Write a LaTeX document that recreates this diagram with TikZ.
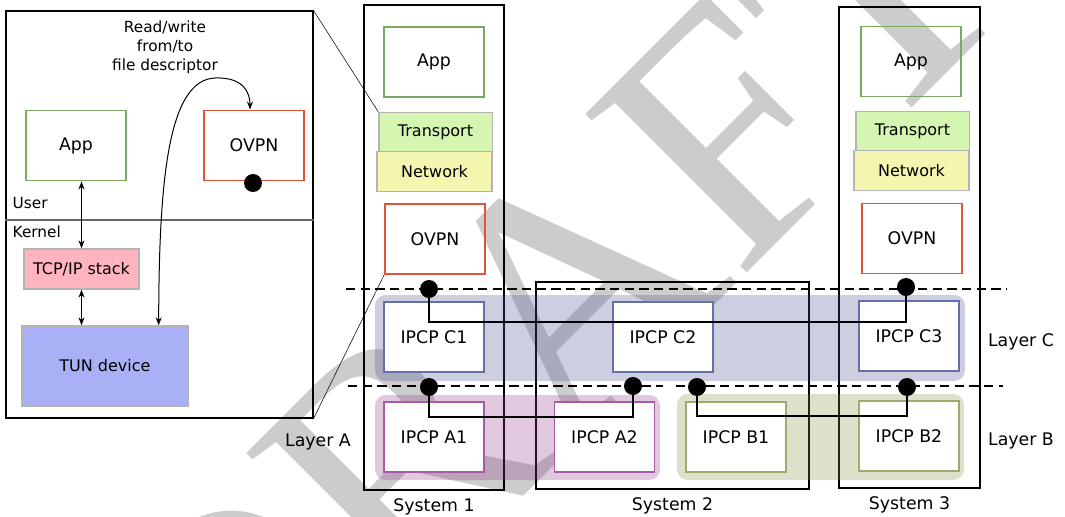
\documentclass[tikz,border=0pt]{standalone}
\usepackage{fontspec}
\newfontfamily\dejavu{DejaVu Sans}
\newfontfamily\wmfont{Liberation Serif}
\usetikzlibrary{positioning,arrows.meta}

\definecolor{appgreen}{RGB}{126,168,98}
\definecolor{ovpnred}{RGB}{224,83,58}
\definecolor{stackgrey}{RGB}{180,180,180}
\definecolor{transfill}{RGB}{213,246,176}
\definecolor{netfill}{RGB}{244,245,174}
\definecolor{tcpfill}{RGB}{255,180,192}
\definecolor{tunfill}{RGB}{170,176,245}
\definecolor{cstroke}{RGB}{102,112,168}
\definecolor{astroke}{RGB}{166,90,168}
\definecolor{bstroke}{RGB}{160,168,108}
\definecolor{cfill}{RGB}{76,84,144}
\definecolor{afill}{RGB}{144,59,137}
\definecolor{bfill}{RGB}{141,144,69}
\definecolor{wmgrey}{RGB}{204,204,204}

\tikzset{
	every node/.style={font=\dejavu\fontsize{13}{15}\selectfont},
	smalltext/.style={font=\dejavu\fontsize{11.5}{14.25}\selectfont},
	sysbox/.style={draw, line width=0.8pt, inner sep=0pt},
	appbox/.style={draw=appgreen, line width=1.4pt, minimum width=75pt, minimum height=52.5pt, inner sep=0pt},
	ovpnbox/.style={draw=ovpnred, line width=1.4pt, minimum width=75pt, minimum height=52.5pt, inner sep=0pt},
	stackbox/.style={draw=stackgrey, line width=1pt, minimum width=85pt, minimum height=29.5pt, inner sep=0pt, font=\dejavu\fontsize{12}{14}\selectfont},
	ipcp/.style={fill=white, line width=1.4pt, minimum width=75pt, minimum height=52.5pt, inner sep=0pt},
	layerbg/.style={rounded corners=8pt, inner sep=0pt, fill opacity=0.28},
	port/.style={circle, fill=black, inner sep=0pt, minimum size=13.5pt},
	layerline/.style={line width=1.1pt, dash pattern=on 7pt off 4pt},
	flow/.style={line width=1.3pt},
	fdarrow/.style={line width=0.75pt, {Stealth[length=6pt,width=4.5pt]}-{Stealth[length=6pt,width=4.5pt]}}
}

\begin{document}
\begin{tikzpicture}[x=0.75pt,y=0.75pt,yscale=-1,xscale=1]
	\useasboundingbox (0,0) rectangle (1065,517);
	\clip (0,0) rectangle (1065,517);

	% watermark
	\node[rotate=45, anchor=base west, inner sep=0pt, text=wmgrey, font=\wmfont\fontsize{259}{270}\selectfont] (wm) at (223,797) {DRAFT};

	% left panel: user space / kernel
	\node[sysbox, minimum width=230.25pt, minimum height=305.25pt] (panel) at (159.5,214.5) {};
	\draw[line width=0.8pt, black!60] (panel.west |- 0,220) -- (panel.east |- 0,220);
	\node[smalltext, anchor=west] (user) at (8,203) {User};
	\node[smalltext, anchor=west] (kernel) at (8,232) {Kernel};

	\node[appbox] (lapp) at (76,145.5) {App};
	\node[ovpnbox] (lovpn) at (254,145.5) {OVPN};
	\node[port] (lfd) at (253,183) {};
	\node[stackbox, fill=tcpfill, minimum width=86.25pt, minimum height=30pt] (tcp) at (81.5,269) {TCP/IP stack};
	\node[stackbox, fill=tunfill, minimum width=124.5pt, minimum height=60pt] (tun) at (105,366) {TUN device};

	\draw[fdarrow] (tcp.north) -- (tcp.north |- lapp.south);
	\draw[fdarrow] (tcp.south) -- (tcp.south |- tun.north);
	\draw[fdarrow] ([xshift=-22.5pt]tun.north east) .. controls (159,180) and (168,80) .. (215,78) .. controls (243,77) and (250,92) .. ([xshift=-3pt]lovpn.north);
	\node[smalltext, align=center] (rwlabel) at (165,47) {Read/write\\from/to\\file descriptor};

	% systems
	\node[sysbox, minimum width=105pt, minimum height=363.75pt] (sys1) at (434,247.5) {};
	\node[sysbox, minimum width=204.75pt, minimum height=155.25pt] (sys2) at (672.5,385.5) {};
	\node[sysbox, minimum width=105.75pt, minimum height=360.75pt] (sys3) at (909.5,247.5) {};
	\node[below=2.5pt of sys1] (sys1lab) {System 1};
	\node[below=2.5pt of sys2] (sys2lab) {System 2};
	\node[below=2.5pt of sys3] (sys3lab) {System 3};

	\node[appbox] (app1) at (434,62) {App};
	\node[stackbox, fill=transfill] (tr1) at (435.5,132) {Transport};
	\node[stackbox, fill=netfill, minimum width=86.25pt] (nw1) at (434.5,171.5) {Network};
	\node[ovpnbox] (ov1) at (435,239) {OVPN};

	\node[appbox] (app3) at (911,61.5) {App};
	\node[stackbox, fill=transfill] (tr3) at (912.5,131) {Transport};
	\node[stackbox, fill=netfill, minimum width=86.25pt] (nw3) at (911.5,170.5) {Network};
	\node[ovpnbox] (ov3) at (912,238.5) {OVPN};

	% zoom lines
	\draw[line width=0.4pt] (panel.north east) -- (tr1.north west);
	\draw[line width=0.4pt] (panel.south east) -- (ov1.south west);

	% layers
	\node[layerbg, fill=cfill, minimum width=442.5pt, minimum height=64.5pt] (layC) at (670,338) {};
	\node[layerbg, fill=afill, minimum width=213.75pt, minimum height=63.75pt] (layA) at (517.5,437.5) {};
	\node[layerbg, fill=bfill, minimum width=215.25pt, minimum height=64.5pt] (layB) at (820.5,437) {};
	\node (layClab) at (1021,342) {Layer C};
	\node (layBlab) at (1021,441) {Layer B};
	\node (layAlab) at (318,442) {Layer A};

	\draw[layerline] (346,289) -- (1007,289);
	\draw[layerline] (348,386) -- (663,386);
	\draw[layerline] (676,386) -- (1003,386);

	\node[ipcp, draw=cstroke] (c1) at (434,337) {IPCP C1};
	\node[ipcp, draw=cstroke] (c2) at (663,337) {IPCP C2};
	\node[ipcp, draw=cstroke] (c3) at (909,336) {IPCP C3};
	\node[ipcp, draw=astroke] (a1) at (434,437) {IPCP A1};
	\node[ipcp, draw=astroke] (a2) at (604.5,437) {IPCP A2};
	\node[ipcp, draw=bstroke] (b1) at (736,437) {IPCP B1};
	\node[ipcp, draw=bstroke] (b2) at (909,436) {IPCP B2};

	\node[port] (pc1) at (429,289) {};
	\node[port] (pc3) at (906,287) {};
	\node[port] (pa1) at (429,387) {};
	\node[port] (pa2) at (633,386) {};
	\node[port] (pb1) at (697,387) {};
	\node[port] (pb2) at (907,387) {};

	\draw[flow] (pc1.center) -- ++(0,33) -| (pc3.center);
	\draw[flow] (pa1.center) -- ++(0,30) -| (pa2.center);
	\draw[flow] (pb1.center) -- ++(0,29) -| (pb2.center);
\end{tikzpicture}
\end{document}
